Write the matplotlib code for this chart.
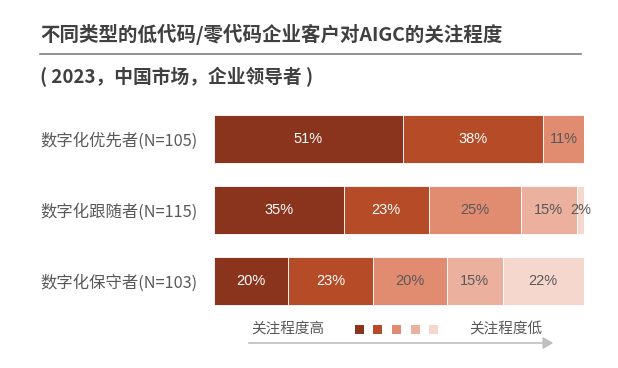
import matplotlib.pyplot as plt
from matplotlib.patches import Rectangle, FancyArrowPatch

plt.rcParams['font.family'] = ['Noto Sans CJK SC', 'DejaVu Sans']

# data
groups = ['数字化优先者(N=105)', '数字化跟随者(N=115)', '数字化保守者(N=103)']
level_1 = [51, 35, 20]
level_2 = [38, 23, 23]
level_3 = [11, 25, 20]
level_4 = [0, 15, 15]
level_5 = [0, 2, 22]
series = [level_1, level_2, level_3, level_4, level_5]
colors = ['#8A341D', '#B54B27', '#E18B70', '#EBB09E', '#F5D7CE']
text_colors = ['white', 'white', '#595959', '#595959', '#595959']

W, H = 618, 368
fig = plt.figure(figsize=(W / 100, H / 100), dpi=100)

# title block
fig.text(40 / W, 1 - 34 / H, '不同类型的低代码/零代码企业客户对AIGC的关注程度',
         fontsize=14, fontweight='bold', color='#404040', va='center', ha='left')
fig.add_artist(plt.Line2D([40 / W, 581 / W], [1 - 54 / H, 1 - 54 / H],
                          color='#7F7F7F', lw=1.2))
fig.text(40 / W, 1 - 77 / H, '( 2023，中国市场，企业领导者 )',
         fontsize=13.5, fontweight='bold', color='#404040', va='center', ha='left')

# bars
ax = fig.add_axes([214 / W, 1 - 316 / H, 370 / W, 212 / H])
ypos = range(len(groups))
left = [0] * len(groups)
for vals, c, tc in zip(series, colors, text_colors):
    ax.barh(ypos, vals, left=left, height=0.68, color=c,
            edgecolor='white', linewidth=0.6)
    for y, v, l in zip(ypos, vals, left):
        if v > 0:
            ax.text(l + v / 2, y, f'{v}%', ha='center', va='center',
                    fontsize=10.5, color=tc, family=['Liberation Sans'])
    left = [a + b for a, b in zip(left, vals)]

ax.set_xlim(0, 100)
ax.set_ylim(len(groups) - 0.5, -0.5)
ax.set_yticks(list(ypos))
ax.set_yticklabels(groups, fontsize=11.75, color='#595959')
ax.tick_params(axis='y', length=0, pad=12)
ax.set_xticks([])
for s in ax.spines.values():
    s.set_visible(False)

# legend row
fig.text(251 / W, 1 - 329 / H, '关注程度高', fontsize=10.5, color='#595959',
         va='center', ha='left')
fig.text(542 / W, 1 - 329 / H, '关注程度低', fontsize=10.5, color='#595959',
         va='center', ha='right')
for i, c in enumerate(colors):
    x0 = 355 + i * 18.5
    fig.add_artist(Rectangle((x0 / W, 1 - 334 / H), 9 / W, 9 / H,
                             transform=fig.transFigure, color=c, lw=0))
fig.add_artist(FancyArrowPatch((246 / W, 1 - 343 / H), (556 / W, 1 - 343 / H),
                               transform=fig.transFigure,
                               arrowstyle='-|>,head_length=6,head_width=3.5',
                               color='#BFBFBF', lw=1.2, mutation_scale=1))

fig.savefig('out.png', dpi=100)
